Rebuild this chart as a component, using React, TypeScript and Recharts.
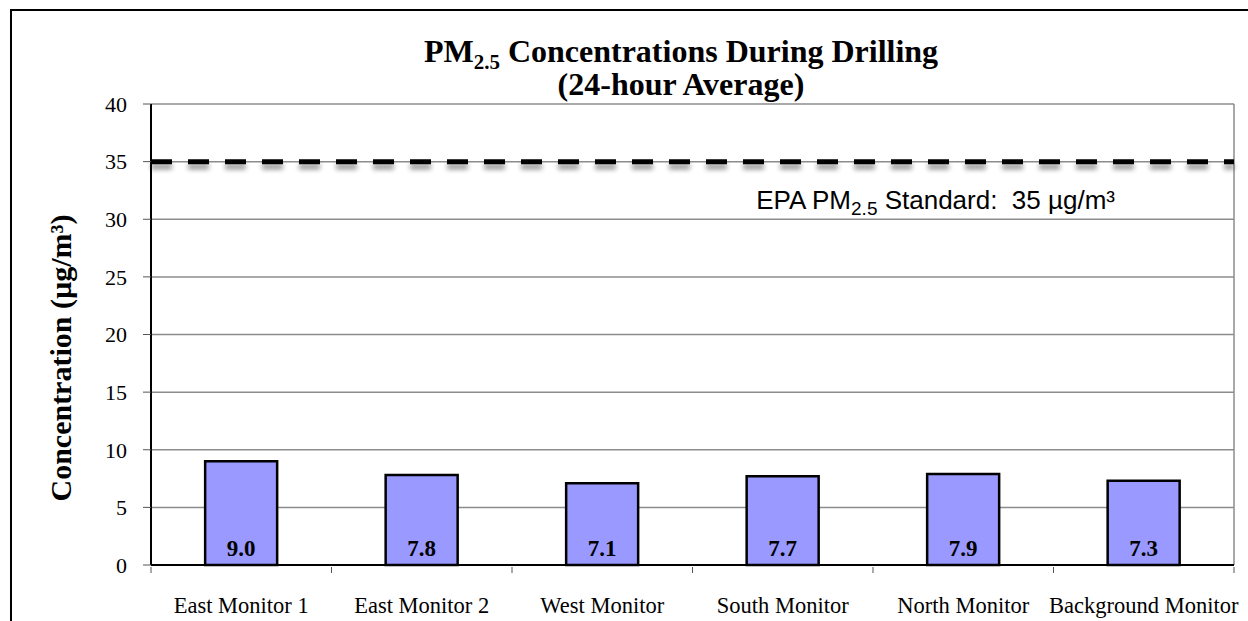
import React from 'react'
import { BarChart, Bar, XAxis, YAxis, CartesianGrid, ReferenceLine, LabelList } from 'recharts'

const monitors = ['East Monitor 1', 'East Monitor 2', 'West Monitor', 'South Monitor', 'North Monitor', 'Background Monitor']
const pm25 = [9.0, 7.8, 7.1, 7.7, 7.9, 7.3]
const yTicks = [0, 5, 10, 15, 20, 25, 30, 35, 40]
const epaStandard = 35

const data = monitors.map((name, i) => ({ name, value: pm25[i] }))

const serif = '"Liberation Serif", "Times New Roman", serif'
const sans = '"Liberation Sans", Arial, sans-serif'

// category label plus Excel style tick mark on the band edge
function MonitorTick(props: any) {
  const { x, y, payload, index, visibleTicksCount } = props
  const half = payload.offset || 0
  return (
    <g>
      <line x1={x - half} x2={x - half} y1={y - 6} y2={y} stroke="#555" />
      {index === visibleTicksCount - 1 && (
        <line x1={x + half} x2={x + half} y1={y - 6} y2={y} stroke="#555" />
      )}
      <text x={x} y={y + 40} textAnchor="middle" fontFamily={serif} fontSize={22.5} fill="#000">
        {payload.value}
      </text>
    </g>
  )
}

function StandardLabel(props: any) {
  const { viewBox } = props
  const right = viewBox.x + viewBox.width - 119
  return (
    <text x={right} y={viewBox.y + 47} textAnchor="end" fontFamily={sans} fontSize={26} fill="#000">
      EPA PM<tspan dy={6} fontSize={19}>2.5</tspan>
      <tspan dy={-6}>{' Standard:\u00a0 35 µg/m³'}</tspan>
    </text>
  )
}

function YTitle() {
  return (
    <text
      x={71}
      y={358}
      transform="rotate(-90, 71, 358)"
      textAnchor="middle"
      fontFamily={serif}
      fontWeight="bold"
      fontSize={30}
      fill="#000"
    >
      Concentration (µg/m³)
    </text>
  )
}

export default function App() {
  return (
    <div style={{ position: 'absolute', left: 0, top: 0, width: 1248, height: 621, background: '#fff', overflow: 'hidden' }}>
      <div style={{ position: 'absolute', left: 10, top: 9, width: 1300, height: 700, border: '2px solid #000' }} />
      <BarChart
        width={1248}
        height={621}
        data={data}
        margin={{ top: 104, right: 14, bottom: 0, left: 0 }}
        barCategoryGap="30%"
        style={{ position: 'absolute', left: 0, top: 0 }}
      >
        <defs>
          <filter id="lineShadow" filterUnits="userSpaceOnUse" x="0" y="0" width="1248" height="621">
            <feGaussianBlur in="SourceAlpha" stdDeviation="2.5" />
            <feOffset dx="0" dy="5" result="blur" />
            <feComponentTransfer>
              <feFuncA type="linear" slope="0.45" />
            </feComponentTransfer>
            <feMerge>
              <feMergeNode />
              <feMergeNode in="SourceGraphic" />
            </feMerge>
          </filter>
        </defs>
        <CartesianGrid
          vertical
          stroke="#8c8c8c"
          strokeWidth={1.5}
          verticalCoordinatesGenerator={({ offset }: any) => [offset.left + offset.width]}
        />
        <XAxis
          dataKey="name"
          height={56}
          tickLine={false}
          axisLine={{ stroke: '#000', strokeWidth: 2 }}
          tick={<MonitorTick />}
          interval={0}
        />
        <YAxis
          width={151}
          domain={[0, 40]}
          ticks={yTicks}
          interval={0}
          tickSize={8}
          tickMargin={16}
          tickLine={{ stroke: '#555' }}
          axisLine={{ stroke: '#000', strokeWidth: 2 }}
          tick={{ fontFamily: serif, fontSize: 22, fill: '#000' }}
          label={<YTitle />}
        />
        <Bar dataKey="value" fill="#9999ff" stroke="#000" strokeWidth={2.5} isAnimationActive={false}>
          <LabelList
            dataKey="value"
            position="insideBottom"
            offset={9}
            formatter={(v: any) => Number(v).toFixed(1)}
            style={{ fontFamily: serif, fontWeight: 'bold', fontSize: 23, fill: '#000' }}
          />
        </Bar>
        <ReferenceLine
          y={epaStandard}
          stroke="#000"
          strokeWidth={5}
          strokeDasharray="21 16"
          filter="url(#lineShadow)"
          label={<StandardLabel />}
        />
      </BarChart>
      <svg width={1248} height={120} style={{ position: 'absolute', left: 0, top: 0, pointerEvents: 'none' }}>
        <text x={681} y={62} textAnchor="middle" fontFamily={serif} fontWeight="bold" fontSize={32} fill="#000">
          PM<tspan dy={7} fontSize={21}>2.5</tspan>
          <tspan dy={-7}> Concentrations During Drilling</tspan>
        </text>
        <text x={681} y={95} textAnchor="middle" fontFamily={serif} fontWeight="bold" fontSize={32} fill="#000">
          (24-hour Average)
        </text>
      </svg>
    </div>
  )
}
